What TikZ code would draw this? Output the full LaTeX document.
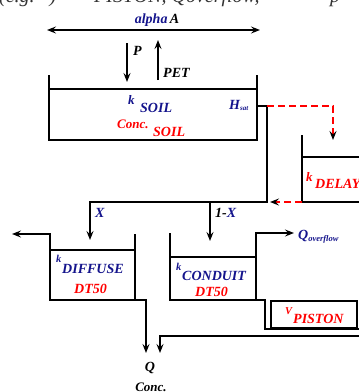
\documentclass[tikz,border=0pt]{standalone}
\usepackage{fontspec}
\setmainfont{Liberation Serif}
\usepackage{xcolor}
\usetikzlibrary{arrows.meta,positioning,calc}
\definecolor{fluxblue}{RGB}{20, 20, 140}
\definecolor{storered}{RGB}{255, 0, 0}

\tikzset{
    wall/.style={line width=2pt},
    flow/.style={line width=1.8pt, -{Stealth[length=9pt, width=7pt, inset=3.5pt]}},
    thinflow/.style={line width=1.3pt, -{Stealth[length=9pt, width=7pt, inset=3.5pt]}},
    dflow/.style={line width=1.5pt, {Stealth[length=9pt, width=7pt, inset=3.5pt]}-{Stealth[length=9pt, width=7pt, inset=3.5pt]}},
    redflow/.style={storered, line width=2pt, dash pattern=on 7pt off 4pt, -{Stealth[black, length=9pt, width=7pt, inset=3.5pt]}},
    lbl/.style={inner sep=0pt, anchor=base west, font=\fontsize{14}{14}\selectfont\bfseries\itshape},
    klbl/.style={inner sep=0pt, anchor=base west, font=\fontsize{10.5}{10.5}\selectfont\bfseries\itshape},
    caption/.style={inner sep=0pt, anchor=base west, font=\fontsize{20}{20}\selectfont\itshape, text=black!80},
}

\begin{document}
\begin{tikzpicture}[x=1pt, y=-1pt]
    \useasboundingbox (0,0) rectangle (359,392);
    \clip (0,0) rectangle (359,392);

    % caption of the page, cut off at the top
    \node[caption] (capleft) at (-1,2) {(e.g.\ \ \ )};
    \node[caption] (capmid) at (94,2) {PISTON, Qoverflow,};
    \node[caption] (capright) at (330,2) {p};

    % exchange with the atmosphere
    \coordinate (aleft) at (47,30);
    \coordinate (aright) at (260,30);
    \draw[dflow] (aleft) -- (aright);
    \node[lbl, anchor=base] (alpha) at (157,23) {\textcolor{fluxblue}{alpha}\,A};

    \coordinate (ptail) at (127,43);
    \coordinate (ptip) at (127,82);
    \draw[flow] (ptail) -- (ptip);
    \node[lbl] (plbl) at (133,55) {P};
    \coordinate (etail) at (158,80);
    \coordinate (etip) at (158,40);
    \draw[flow] (etail) -- (etip);
    \node[lbl] (petlbl) at (163,77) {PET};

    % soil store
    \draw[wall] (49,75) -- (49,140) -- (257,140) -- (257,75);
    \draw[wall] (49,89) -- (257,89);
    \node[lbl, fluxblue, font=\fontsize{13}{13}\selectfont\bfseries\itshape] (ksoil) at (128,104) {k};
    \node[lbl, fluxblue] (soil) at (140,112) {SOIL};
    \node[lbl, storered, font=\fontsize{13}{13}\selectfont\bfseries\itshape] (concsoil) at (117,128) {Conc.};
    \node[lbl, storered] (soilred) at (153,136) {SOIL};
    \node[lbl, fluxblue] (hsatlbl) at (229,109) {H\raisebox{-1.5pt}{\fontsize{7}{7}\selectfont sat}};

    % outflow and split
    \coordinate (soilout) at (257,106);
    \coordinate (hsat) at (267,106);
    \coordinate (split) at (267,202);
    \coordinate (xcorner) at (90,202);
    \coordinate (xtip) at (90,240);
    \coordinate (ytop) at (210,202);
    \coordinate (ytip) at (210,241);
    \draw[flow] (soilout) -- (hsat) -- (split) -- (xcorner) -- (xtip);
    \draw[flow] (ytop) -- (ytip);
    \node[lbl, fluxblue] (xlbl) at (95,217) {X};
    \node[lbl] (ylbl) at (215,217) {1-\textcolor{fluxblue}{X}};

    % delay store
    \coordinate (dcorner) at (333,106);
    \coordinate (dtip) at (333,140);
    \draw[redflow] (hsat) -- (dcorner) -- (dtip);
    \draw[wall] (302,135) -- (302,202) -- (362,202);
    \draw[wall] (302,157) -- (362,157);
    \node[lbl, storered, font=\fontsize{13}{13}\selectfont\bfseries\itshape] (kdelay) at (306,181) {k};
    \node[lbl, storered] (delay) at (315,188) {DELAY};
    \coordinate (delayout) at (302,202);
    \coordinate (delaytip) at (270,202);
    \draw[redflow] (delayout) -- (delaytip);

    % diffuse store
    \coordinate (difftip) at (12,234);
    \draw[flow] (135,234) -- (135,300) -- (50,300) -- (50,234) -- (difftip);
    \draw[wall] (50,250) -- (135,250);
    \node[klbl, fluxblue] (kdiff) at (56,262) {k};
    \node[lbl, fluxblue] (diffuse) at (62,273) {DIFFUSE};
    \node[lbl, storered] (dtdiff) at (74,293) {DT50};
    \coordinate (diffout) at (135,300);
    \coordinate (qtipa) at (146,353);
    \draw[flow] (diffout) -- (146,300) -- (qtipa);

    % conduit store
    \coordinate (overtip) at (294,233);
    \draw[flow] (170,233) -- (170,300) -- (256,300) -- (256,233) -- (overtip);
    \draw[wall] (170,257) -- (256,257);
    \node[klbl, fluxblue] (kcond) at (176,270) {k};
    \node[lbl, fluxblue] (conduit) at (182,280) {CONDUIT};
    \node[lbl, storered] (dtcond) at (195,296) {DT50};
    \node[lbl, fluxblue] (qover) at (298,239) {Q\raisebox{-2.5pt}{\fontsize{8.5}{8.5}\selectfont overflow}};

    % piston store
    \draw[line width=1.3pt] (256,300) -- (265,300) -- (265,329) -- (362,329);
    \draw[wall] (271,301) rectangle (357,328);
    \node[klbl, storered] (vpist) at (285,314) {V};
    \node[lbl, storered] (piston) at (293,323) {PISTON};
    \coordinate (pistout) at (362,336);
    \coordinate (qtipb) at (160,353);
    \draw[thinflow] (pistout) -- (160,336) -- (qtipb);

    % outlet
    \node[lbl, anchor=base] (qlbl) at (150,371) {Q};
    \node[lbl, anchor=base, font=\fontsize{13}{13}\selectfont\bfseries\itshape] (conc) at (151,391) {Conc.};
\end{tikzpicture}
\end{document}
